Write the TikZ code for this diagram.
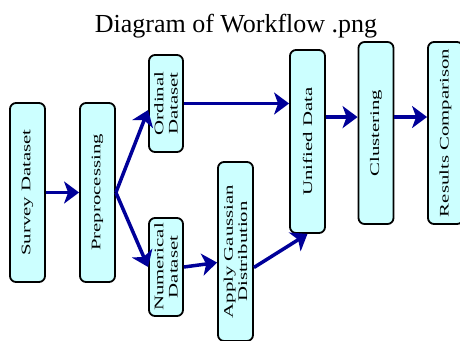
\documentclass[tikz,border=0pt]{standalone}
\usepackage{fontspec}
\setmainfont{Liberation Serif}
\usepackage{graphicx}
\usepackage{xcolor}
\usepackage{tikz}
\usetikzlibrary{arrows.meta}

\definecolor{boxcyan}{HTML}{CCFFFF}
\definecolor{flownavy}{HTML}{000099}

\newcommand{\boxtext}[1]{\rotatebox{90}{\scalebox{1}[0.63]{\vbox{\baselineskip=22.5pt\lineskiplimit=-50pt\halign{\hfil##\hfil\cr#1\cr}}}}}

\begin{document}
\begin{tikzpicture}[x=1pt, y=-1pt,
  stage/.style={draw=black, line width=1.8pt, rounded corners=6pt, fill=boxcyan,
    inner sep=0pt, minimum width=35pt, minimum height=179pt,
    font=\fontsize{20.8}{25}\selectfont},
  flow/.style={draw=flownavy, line width=3.5pt,
    -{Stealth[length=15pt, width=22pt, inset=4pt]}}]
  \useasboundingbox (0,0) rectangle (460,340);

  \node[font=\fontsize{26}{30}\selectfont, anchor=base] (title) at (236,32) {Diagram of Workflow .png};

  \node[stage] (survey) at (27.5,192.5) {\boxtext{Survey Dataset}};
  \node[stage] (prep) at (97.5,192.5) {\boxtext{Preprocessing}};
  \node[stage, minimum width=34pt, minimum height=97pt] (ordinal) at (166,103.5) {\boxtext{Ordinal\cr Dataset}};
  \node[stage, minimum width=34pt, minimum height=98pt] (numerical) at (166,267) {\boxtext{Numerical\cr Dataset}};
  \node[stage] (gaussian) at (235.5,251.5) {\boxtext{Apply Gaussian\cr Distribution}};
  \node[stage, minimum height=183pt] (unified) at (307.5,141.5) {\boxtext{Unified Data}};
  \node[stage, minimum height=182pt] (clustering) at (376,133) {\boxtext{Clustering}};
  \node[stage, minimum height=182pt] (results) at (445.5,133) {\boxtext{Results Comparison}};

  \draw[flow] (survey) -- (prep);
  \draw[flow] (prep.east) -- (ordinal.200);
  \draw[flow] (prep.east) -- (numerical.west);
  \draw[flow] (ordinal.east) -- (ordinal.east -| unified.west);
  \draw[flow] (numerical.east) -- (gaussian.211);
  \draw[flow] (gaussian.-41) -- (unified.south);
  \draw[flow] (unified.53) -- (unified.53 -| clustering.west);
  \draw[flow] (clustering.41) -- (clustering.41 -| results.west);
\end{tikzpicture}
\end{document}
